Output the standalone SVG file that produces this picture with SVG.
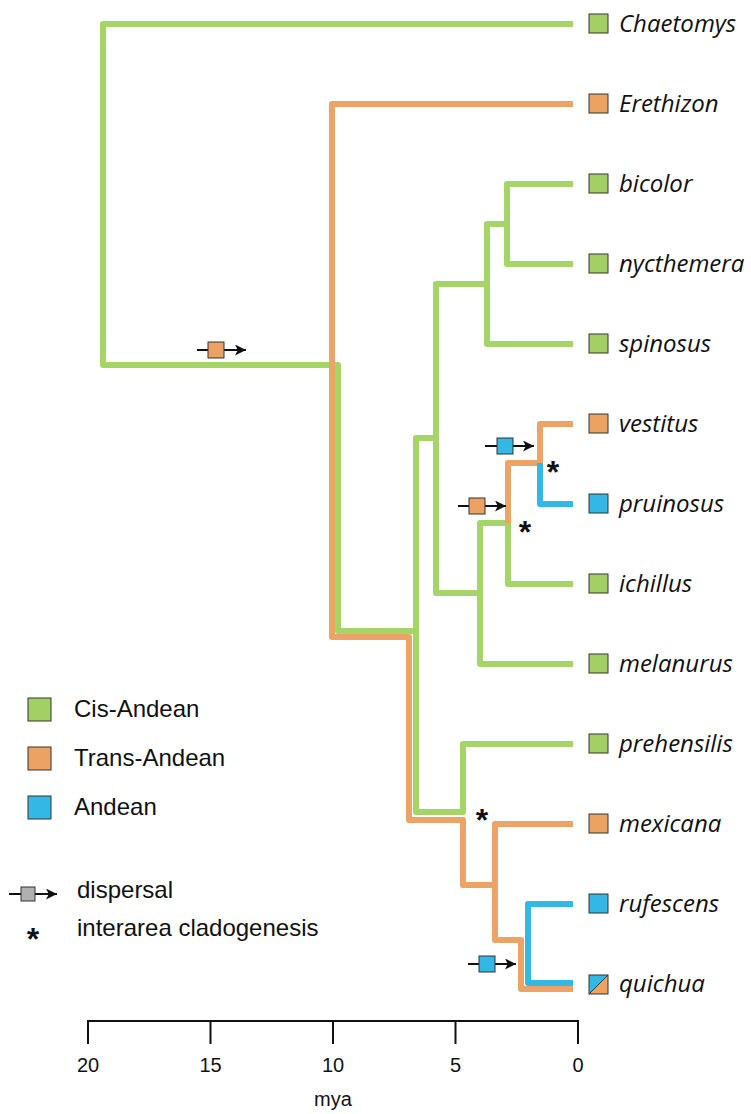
<svg xmlns="http://www.w3.org/2000/svg" width="751" height="1114" viewBox="0 0 751 1114">
<style>
.g{fill:none;stroke:#a5d468;stroke-width:6;stroke-linejoin:round;stroke-linecap:butt}
.o{fill:none;stroke:#eca466;stroke-width:6;stroke-linejoin:round;stroke-linecap:butt}
.b{fill:none;stroke:#33b7e4;stroke-width:6;stroke-linejoin:round;stroke-linecap:butt}
.sq{stroke:#333;stroke-width:1}
.fg{fill:#a2d064}.fo{fill:#eba263}.fb{fill:#33b7e4}.fy{fill:#b0b0b0}
.tip{font-family:"Open Sans","Noto Sans",sans-serif;font-style:italic;font-size:24px;fill:#111}
.lg{font-family:"Liberation Sans",Arial,sans-serif;font-size:24px;fill:#111}
.ax{font-family:"Liberation Sans",Arial,sans-serif;font-size:20px;fill:#111;text-anchor:middle}
.ast{font-family:"Liberation Sans",Arial,sans-serif;font-size:32px;font-weight:bold;fill:#111;text-anchor:middle}
.arr{stroke:#111;stroke-width:1.8;fill:none}
</style>
<defs>
<marker id="ah" viewBox="0 0 10 10" refX="10" refY="5" markerWidth="17" markerHeight="11" markerUnits="userSpaceOnUse" orient="auto"><path d="M0,0 L10,5 L0,10 L2.5,5 Z" fill="#111"/></marker>
</defs>
<rect width="751" height="1114" fill="#fff"/>
<g id="connectors">
<path class="g" d="M573,24 H103 V365 H338 V631 H416"/>
<path class="g" d="M436,438 H416 V812 H463 V744 H573"/>
<path class="g" d="M573,184 H507 V264 H573"/>
<path class="g" d="M507,224 H487 V344 H573"/>
<path class="g" d="M487,284 H436 V593 H480"/>
<path class="g" d="M573,664 H480 V523 H508 V584 H573"/>
<path class="o" d="M573,104 H332 V637 H409 V820 H463 V885 H495 V824 H573"/>
<path class="o" d="M495,885 V940 H521 V989 H573"/>
<path class="o" d="M508,523 V463 H540 V424 H573"/>
<path class="b" d="M540,463 V504 H573"/>
<path class="b" d="M573,904 H528 V983 H573"/>
</g>
<g id="events">
<line class="arr" x1="197" y1="350" x2="246" y2="350" marker-end="url(#ah)"/>
<rect class="sq fo" x="208" y="342" width="16" height="16"/>
<line class="arr" x1="485" y1="446" x2="534" y2="446" marker-end="url(#ah)"/>
<rect class="sq fb" x="497" y="438" width="16" height="16"/>
<line class="arr" x1="458" y1="506" x2="506" y2="506" marker-end="url(#ah)"/>
<rect class="sq fo" x="469" y="498" width="16" height="16"/>
<line class="arr" x1="468" y1="964" x2="516" y2="964" marker-end="url(#ah)"/>
<rect class="sq fb" x="479" y="956" width="16" height="16"/>
<text class="ast" x="553" y="483">*</text>
<text class="ast" x="525" y="543">*</text>
<text class="ast" x="482" y="831">*</text>
</g>
<g id="tips">
<g id="n-chaetomys"><rect class="sq fg" x="589" y="14" width="19" height="19"/><text class="tip" x="619" y="32">Chaetomys</text></g>
<g id="n-erethizon"><rect class="sq fo" x="589" y="94" width="19" height="19"/><text class="tip" x="619" y="112">Erethizon</text></g>
<g id="n-bicolor"><rect class="sq fg" x="589" y="174" width="19" height="19"/><text class="tip" x="619" y="192">bicolor</text></g>
<g id="n-nycthemera"><rect class="sq fg" x="589" y="254" width="19" height="19"/><text class="tip" x="619" y="272">nycthemera</text></g>
<g id="n-spinosus"><rect class="sq fg" x="589" y="334" width="19" height="19"/><text class="tip" x="619" y="352">spinosus</text></g>
<g id="n-vestitus"><rect class="sq fo" x="589" y="414" width="19" height="19"/><text class="tip" x="619" y="432">vestitus</text></g>
<g id="n-pruinosus"><rect class="sq fb" x="589" y="494" width="19" height="19"/><text class="tip" x="619" y="512">pruinosus</text></g>
<g id="n-ichillus"><rect class="sq fg" x="589" y="574" width="19" height="19"/><text class="tip" x="619" y="592">ichillus</text></g>
<g id="n-melanurus"><rect class="sq fg" x="589" y="654" width="19" height="19"/><text class="tip" x="619" y="672">melanurus</text></g>
<g id="n-prehensilis"><rect class="sq fg" x="589" y="734" width="19" height="19"/><text class="tip" x="619" y="752">prehensilis</text></g>
<g id="n-mexicana"><rect class="sq fo" x="589" y="814" width="19" height="19"/><text class="tip" x="619" y="832">mexicana</text></g>
<g id="n-rufescens"><rect class="sq fb" x="589" y="894" width="19" height="19"/><text class="tip" x="619" y="912">rufescens</text></g>
<g id="n-quichua"><polygon class="fb" points="589,975 608,975 589,994"/><polygon class="fo" points="608,975 608,994 589,994"/><line x1="589" y1="994" x2="608" y2="975" stroke="#333" stroke-width="1"/><rect class="sq" fill="none" x="589" y="975" width="19" height="19"/><text class="tip" x="619" y="992">quichua</text></g>
</g>
<g id="legend">
<rect class="sq fg" x="28" y="698" width="23" height="23"/><text class="lg" x="74" y="717">Cis-Andean</text>
<rect class="sq fo" x="28" y="747" width="23" height="23"/><text class="lg" x="74" y="766">Trans-Andean</text>
<rect class="sq fb" x="28" y="796" width="23" height="23"/><text class="lg" x="74" y="815">Andean</text>
<line class="arr" x1="9" y1="894" x2="57" y2="894" marker-end="url(#ah)"/>
<rect class="sq fy" x="21" y="887" width="14" height="14"/>
<text class="lg" x="77" y="898">dispersal</text>
<text class="ast" x="33" y="950">*</text>
<text class="lg" x="77" y="936">interarea cladogenesis</text>
</g>
<g id="axis">
<path d="M88,1044 V1021 H578 V1044 M210.5,1021 V1044 M333,1021 V1044 M455.5,1021 V1044" fill="none" stroke="#111" stroke-width="2"/>
<text class="ax" x="88" y="1072">20</text>
<text class="ax" x="210.5" y="1072">15</text>
<text class="ax" x="333" y="1072">10</text>
<text class="ax" x="455.5" y="1072">5</text>
<text class="ax" x="578" y="1072">0</text>
<text class="ax" x="333" y="1106">mya</text>
</g>
</svg>
